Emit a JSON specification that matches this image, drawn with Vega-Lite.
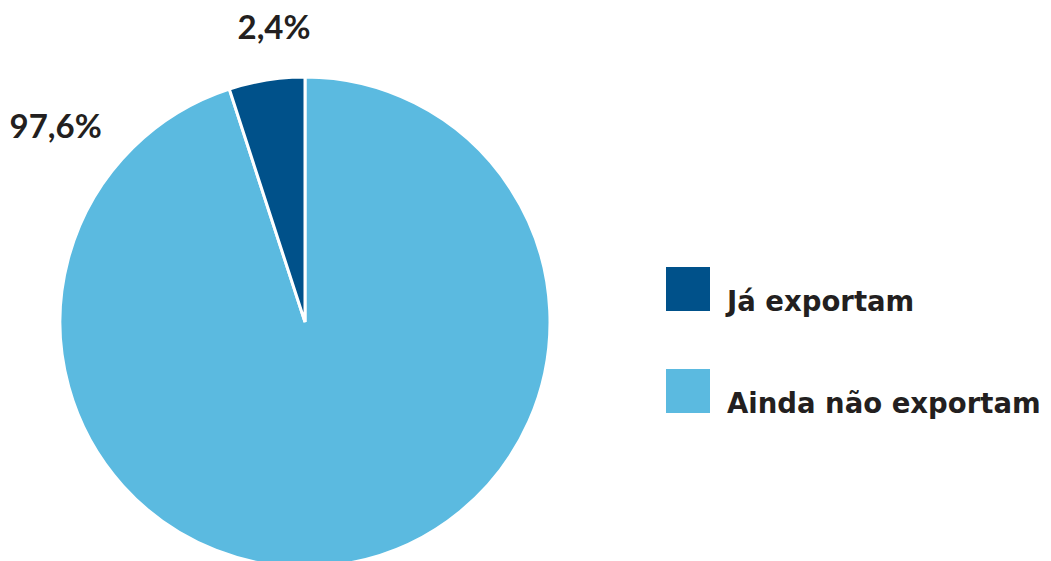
{
  "$schema": "https://vega.github.io/schema/vega-lite/v6.json",
  "width": 1051,
  "height": 561,
  "autosize": {"type": "none"},
  "padding": 0,
  "background": "white",
  "config": {"view": {"stroke": null}},
  "data": {
    "values": [
      {"category": "Ainda não exportam", "share": 95.0, "label": "97,6%", "order": 1},
      {"category": "Já exportam", "share": 5.0, "label": "2,4%", "order": 2}
    ]
  },
  "layer": [
    {
      "mark": {"type": "arc", "radius": 245, "x": 305, "y": 322, "stroke": "white", "strokeWidth": 3},
      "encoding": {
        "theta": {"field": "share", "type": "quantitative", "stack": true},
        "order": {"field": "order", "type": "quantitative"},
        "color": {
          "field": "category",
          "type": "nominal",
          "scale": {"domain": ["Já exportam", "Ainda não exportam"], "range": ["#00518a", "#5bbae0"]},
          "legend": {
            "title": null,
            "orient": "none",
            "legendX": 666,
            "legendY": 267,
            "symbolType": "square",
            "symbolSize": 1936,
            "symbolStrokeWidth": 0,
            "rowPadding": 52,
            "labelOffset": 17,
            "labelFont": "DejaVu Sans",
            "labelFontSize": 27.5,
            "labelFontWeight": "bold",
            "labelColor": "#231f20",
            "labelLimit": 600,
            "labelBaseline": "top"
          }
        }
      }
    },
    {
      "transform": [{"filter": "datum.category === 'Já exportam'"}],
      "mark": {"type": "text", "x": 305, "y": 322, "theta": 6.178, "radius": 295, "font": "Lato", "fontSize": 33, "fontWeight": "bold", "color": "#231f20", "align": "center", "baseline": "middle"},
      "encoding": {"text": {"field": "label"}}
    },
    {
      "transform": [{"filter": "datum.category === 'Ainda não exportam'"}],
      "mark": {"type": "text", "x": 305, "y": 322, "theta": 5.374, "radius": 316, "font": "Lato", "fontSize": 33, "fontWeight": "bold", "color": "#231f20", "align": "center", "baseline": "middle"},
      "encoding": {"text": {"field": "label"}}
    }
  ]
}
